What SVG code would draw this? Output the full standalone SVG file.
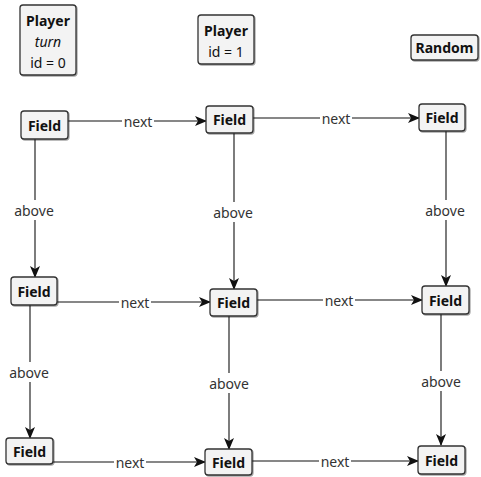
<svg xmlns="http://www.w3.org/2000/svg" width="481" height="477" viewBox="0 0 481 477">
<defs>
<marker id="arr" viewBox="0 0 12 10" refX="11" refY="5" markerWidth="12" markerHeight="10" markerUnits="userSpaceOnUse" orient="auto">
<path d="M0,0 L12,5 L0,10 L3,5 Z" fill="#111"/>
</marker>
<filter id="sh" x="-10%" y="-10%" width="130%" height="140%">
<feDropShadow dx="1" dy="1" stdDeviation="0.6" flood-color="#000" flood-opacity="0.35"/>
</filter>
</defs>
<style>
.box{fill:#f3f3f3;stroke:#333;stroke-width:1.3;filter:url(#sh)}
.t{font-family:"Noto Sans","Open Sans",sans-serif;font-size:14px;fill:#111;text-anchor:middle;dominant-baseline:central}
.b{font-weight:bold}
.i{font-style:italic}
.e{stroke:#111;stroke-width:1.1;fill:none;marker-end:url(#arr)}
.lb{font-family:"Noto Sans","Open Sans",sans-serif;font-size:14px;fill:#333;text-anchor:middle;dominant-baseline:central}
.bg{fill:#fff}
</style>
<rect width="481" height="477" fill="#fff"/>
<g id="connectors">
<line class="e" x1="68" y1="121" x2="206" y2="121"/>
<rect class="bg" x="122" y="112" width="32" height="18"/><text class="lb" x="138" y="121">next</text>
<line class="e" x1="253" y1="118" x2="419" y2="118"/>
<rect class="bg" x="320" y="109" width="32" height="18"/><text class="lb" x="336" y="118">next</text>
<line class="e" x1="57" y1="302" x2="210" y2="302"/>
<rect class="bg" x="119" y="293" width="32" height="18"/><text class="lb" x="135" y="302">next</text>
<line class="e" x1="257" y1="300" x2="422" y2="300"/>
<rect class="bg" x="323" y="291" width="32" height="18"/><text class="lb" x="339" y="300">next</text>
<line class="e" x1="53" y1="462" x2="205" y2="462"/>
<rect class="bg" x="114" y="453" width="32" height="18"/><text class="lb" x="130" y="462">next</text>
<line class="e" x1="252" y1="461" x2="418" y2="461"/>
<rect class="bg" x="319" y="452" width="32" height="18"/><text class="lb" x="335" y="461">next</text>
<line class="e" x1="35" y1="139" x2="35" y2="277"/>
<rect class="bg" x="12" y="200" width="44" height="20"/><text class="lb" x="34" y="210">above</text>
<line class="e" x1="30" y1="305" x2="30" y2="438"/>
<rect class="bg" x="7" y="362" width="44" height="20"/><text class="lb" x="29" y="372">above</text>
<line class="e" x1="234" y1="133" x2="234" y2="289"/>
<rect class="bg" x="211" y="202" width="44" height="20"/><text class="lb" x="233" y="212">above</text>
<line class="e" x1="229" y1="316" x2="229" y2="449"/>
<rect class="bg" x="207" y="373" width="44" height="20"/><text class="lb" x="229" y="383">above</text>
<line class="e" x1="446" y1="131" x2="446" y2="286"/>
<rect class="bg" x="423" y="200" width="44" height="20"/><text class="lb" x="445" y="210">above</text>
<line class="e" x1="441" y1="314" x2="441" y2="445"/>
<rect class="bg" x="419" y="371" width="44" height="20"/><text class="lb" x="441" y="381">above</text>
</g>
<g id="player0"><rect class="box" x="20" y="5" width="56" height="70" rx="3"/>
<text class="t b" x="48" y="20">Player</text><text class="t i" x="48" y="41">turn</text><text class="t" x="48" y="62">id = 0</text></g>
<g id="player1"><rect class="box" x="198" y="15" width="56" height="49" rx="3"/>
<text class="t b" x="226" y="30">Player</text><text class="t" x="226" y="51">id = 1</text></g>
<g id="random"><rect class="box" x="411" y="35" width="67" height="25" rx="3"/>
<text class="t b" x="444.5" y="47">Random</text></g>
<g id="field00"><rect class="box" x="21" y="111" width="47" height="28" rx="3"/><text class="t b" x="44.5" y="125">Field</text></g>
<g id="field01"><rect class="box" x="206" y="106" width="47" height="27" rx="3"/><text class="t b" x="229.5" y="119.5">Field</text></g>
<g id="field02"><rect class="box" x="419" y="104" width="46" height="27" rx="3"/><text class="t b" x="442" y="117.5">Field</text></g>
<g id="field10"><rect class="box" x="11" y="277" width="46" height="28" rx="3"/><text class="t b" x="34" y="291">Field</text></g>
<g id="field11"><rect class="box" x="210" y="289" width="47" height="27" rx="3"/><text class="t b" x="233.5" y="302.5">Field</text></g>
<g id="field12"><rect class="box" x="422" y="286" width="47" height="28" rx="3"/><text class="t b" x="445.5" y="300">Field</text></g>
<g id="field20"><rect class="box" x="6" y="438" width="47" height="26" rx="3"/><text class="t b" x="29.5" y="451">Field</text></g>
<g id="field21"><rect class="box" x="205" y="449" width="47" height="26" rx="3"/><text class="t b" x="228.5" y="462">Field</text></g>
<g id="field22"><rect class="box" x="418" y="446" width="47" height="28" rx="3"/><text class="t b" x="441.5" y="460">Field</text></g>
</svg>
